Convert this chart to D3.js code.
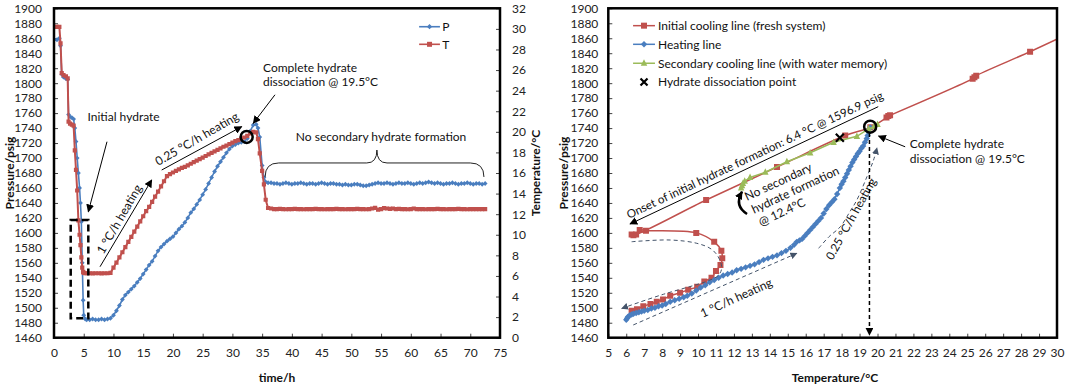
<!DOCTYPE html>
<html>
<head>
<meta charset="utf-8">
<script src="https://cdn.jsdelivr.net/npm/d3@7"></script>
<style>
  body { margin: 0; background: #fff; }
  svg { font-family: Lato, "Open Sans", sans-serif; }
</style>
</head>
<body>
<div id="chart"></div>
<script>
// ---- left panel: time series (time/h, pressure/psig, temperature/°C) ----
const hours = [
  0, 0.5, 0.9, 1.1, 1.3, 1.6, 2.0, 2.3, 2.45, 2.7, 3.0, 3.3, 3.5, 3.7, 3.9, 4.1, 4.3, 4.45, 4.6, 4.75, 4.9, 5.0, 5.25,
  5.5, 6, 6.5, 7, 7.5, 8, 8.5, 9, 9.5, 10, 10.5, 11, 11.5, 12, 12.5, 13, 13.5, 14, 14.5, 15,
  15.5, 16, 16.5, 17, 17.5, 18, 18.5, 19, 19.5, 20, 20.5, 21, 21.5, 22, 22.5, 23, 23.5, 24, 24.5, 25,
  25.5, 26, 26.5, 27, 27.5, 28, 28.5, 29, 29.5, 30, 30.5, 31, 31.5, 32, 32.5, 33, 33.5, 34,
  34.3, 34.6, 35, 35.3, 35.6, 36,
  36.5, 37, 37.5, 38, 38.5, 39, 39.5, 40, 40.5, 41, 41.5, 42, 42.5, 43, 43.5, 44, 44.5, 45, 45.5, 46,
  46.5, 47, 47.5, 48, 48.5, 49, 49.5, 50, 50.5, 51, 51.5, 52, 52.5, 53, 53.5, 54, 54.5, 55, 55.5, 56,
  56.5, 57, 57.5, 58, 58.5, 59, 59.5, 60, 60.5, 61, 61.5, 62, 62.5, 63, 63.5, 64, 64.5, 65, 65.5, 66,
  66.5, 67, 67.5, 68, 68.5, 69, 69.5, 70, 70.5, 71, 71.5, 72, 72.5
];
const pressure = [
  1858, 1858, 1860, 1850, 1812, 1808, 1806, 1805, 1758, 1755, 1754, 1752, 1740, 1722, 1700, 1680, 1660, 1640, 1615, 1560, 1510, 1490, 1485,
  1484, 1484, 1485, 1484, 1484, 1485, 1484, 1485, 1486, 1490, 1496, 1503, 1511, 1517, 1521, 1525, 1529, 1534, 1539, 1545,
  1551, 1557, 1562, 1569, 1576, 1581, 1585, 1589, 1592, 1595, 1600, 1605, 1609, 1614, 1620, 1627, 1632, 1638, 1644, 1651,
  1658, 1666, 1674, 1682, 1689, 1695, 1701, 1707, 1712, 1716, 1718, 1720, 1721, 1722, 1726, 1736, 1744, 1745,
  1740, 1728, 1690, 1674, 1668, 1667,
  1667, 1666, 1666, 1665, 1666, 1667, 1666, 1665, 1666, 1666, 1667, 1666, 1665, 1666, 1666, 1665, 1666, 1667, 1666, 1665,
  1666, 1666, 1665, 1665, 1664, 1665, 1664, 1664, 1665, 1665, 1664, 1663, 1663, 1664, 1665, 1666, 1667, 1666, 1666, 1667,
  1666, 1665, 1666, 1667, 1666, 1666, 1667, 1666, 1665, 1666, 1667, 1666, 1667, 1668, 1667, 1666, 1667, 1666, 1665, 1666,
  1666, 1667, 1666, 1665, 1666, 1666, 1667, 1666, 1665, 1666, 1666, 1665, 1666
];
const temperature = [
  30.2, 30.2, 30.2, 28.6, 25.7, 25.5, 25.4, 25.2, 21.0, 20.8, 20.7, 20.6, 18.2, 16.3, 14.3, 11.4, 10.0, 9.0, 7.8, 6.8, 6.4, 6.3, 6.26,
  6.26, 6.26, 6.25, 6.26, 6.26, 6.25, 6.26, 6.26, 6.3, 6.8, 7.3, 7.8, 8.3, 8.8, 9.3, 9.8, 10.3, 10.8, 11.3, 11.8,
  12.3, 12.7, 13.2, 13.7, 14.2, 14.7, 15.2, 15.7, 15.9, 16.05, 16.2, 16.35, 16.5, 16.6, 16.75, 16.9, 17.05, 17.2, 17.35, 17.5,
  17.65, 17.8, 17.95, 18.1, 18.25, 18.4, 18.55, 18.65, 18.8, 18.95, 19.1, 19.2, 19.35, 19.45, 19.6, 19.85, 20.0, 19.95,
  19.3, 17.9, 16.2, 14.9, 13.4, 12.6,
  12.55, 12.5, 12.5, 12.52, 12.5, 12.48, 12.5, 12.5, 12.52, 12.5, 12.5, 12.48, 12.5, 12.5, 12.5, 12.52, 12.5, 12.5, 12.48, 12.5,
  12.5, 12.5, 12.52, 12.5, 12.5, 12.48, 12.5, 12.5, 12.5, 12.52, 12.5, 12.5, 12.48, 12.5, 12.55, 12.62, 12.45, 12.5, 12.58, 12.55,
  12.52, 12.55, 12.5, 12.52, 12.5, 12.5, 12.48, 12.5, 12.55, 12.5, 12.5, 12.5, 12.48, 12.5, 12.5, 12.5, 12.52, 12.5, 12.5, 12.48,
  12.5, 12.5, 12.5, 12.52, 12.5, 12.5, 12.48, 12.5, 12.5, 12.5, 12.5, 12.5, 12.5
];

// ---- right panel: P-T diagram ----
const coolTemp  = [30.2, 28.5, 25.5, 25.4, 25.3, 20.7, 20.6, 20.5, 19.6, 18.2, 14.4, 10.45, 6.4, 6.3, 6.55, 6.75, 7.1,
                   9.9, 10.9, 11.3, 11.35, 11.25, 11.0, 10.75, 10.35, 9.95, 9.45, 9.0, 8.45, 8.05, 7.7, 7.35, 6.95, 6.6, 6.3];
const coolPress = [1861, 1842, 1810, 1808, 1806, 1757, 1756, 1754, 1741, 1730, 1688, 1644, 1597, 1598, 1598, 1604, 1603,
                   1600, 1588, 1576, 1566, 1557, 1549, 1540, 1535, 1528, 1524, 1520, 1516, 1511, 1508, 1505, 1502, 1498, 1496];

const heatTemp = [6.0, 6.05, 6.1, 6.2, 6.3, 6.4, 6.55, 6.7, 6.85, 7.0, 7.2, 7.4, 7.6, 7.8, 8.0, 8.2, 8.45, 8.7, 8.95, 9.2,
                  9.4, 9.65, 9.9, 10.15, 10.4, 10.65, 10.9, 11.15, 11.4, 11.65, 11.9, 12.15, 12.4, 12.65, 12.9, 13.15, 13.4, 13.65, 13.9, 14.15,
                  14.4, 14.65, 14.9, 15.15, 15.35, 15.5, 15.65, 15.8, 15.95, 16.1, 16.25, 16.4, 16.55, 16.7, 16.85, 17.0, 17.15, 17.3, 17.45, 17.6,
                  17.75, 17.9, 18.0, 18.1, 18.2, 18.3, 18.4, 18.5, 18.6, 18.7, 18.8, 18.9, 19.0, 19.1, 19.2, 19.3, 19.4, 19.45, 19.5, 19.55, 19.6];
const heatPress = [1484, 1486, 1488, 1490, 1491, 1492, 1493, 1494, 1495, 1496, 1497, 1499, 1500, 1502, 1503, 1505, 1508, 1510, 1512, 1514,
                   1516, 1519, 1523, 1527, 1530, 1534, 1537, 1540, 1543, 1545, 1547, 1550, 1552, 1554, 1556, 1558, 1561, 1564, 1566, 1568,
                   1570, 1573, 1576, 1580, 1584, 1588, 1590, 1592, 1596, 1600, 1604, 1608, 1612, 1616, 1620, 1626, 1632, 1637, 1641, 1645,
                   1652, 1660, 1665, 1669, 1674, 1679, 1684, 1689, 1694, 1698, 1702, 1706, 1709, 1713, 1716, 1721, 1726, 1730, 1735, 1739, 1741];

const secTemp  = [20.0, 19.8, 19.5, 18.85, 17.55, 16.25, 14.95, 13.75, 12.9, 12.6, 12.5, 12.45, 12.4];
const secPress = [1745, 1742, 1739, 1729, 1721, 1707, 1695, 1681, 1674, 1669, 1666, 1663, 1660];

const dissocTemp = [17.9];
const dissocPress = [1727];

// ---- tick labels ----
const pressureTicks = [1460, 1480, 1500, 1520, 1540, 1560, 1580, 1600, 1620, 1640, 1660, 1680, 1700, 1720, 1740, 1760, 1780, 1800, 1820, 1840, 1860, 1880, 1900];
const hourTicks = [0, 5, 10, 15, 20, 25, 30, 35, 40, 45, 50, 55, 60, 65, 70, 75];
const tempAxisTicks = [0, 2, 4, 6, 8, 10, 12, 14, 16, 18, 20, 22, 24, 26, 28, 30, 32];
const tempBottomTicks = [5, 6, 7, 8, 9, 10, 11, 12, 13, 14, 15, 16, 17, 18, 19, 20, 21, 22, 23, 24, 25, 26, 27, 28, 29, 30];

const blue = "#4a7ebf", red = "#c0504d", green = "#9bbb59", slate = "#44546a";

const svg = d3.select("#chart").append("svg").attr("width", 1065).attr("height", 385);
const defs = svg.append("defs");

function arrowMarker(id, color, size) {
  defs.append("marker")
    .attr("id", id).attr("viewBox", "0 0 10 10").attr("refX", 9).attr("refY", 5)
    .attr("markerWidth", size).attr("markerHeight", size)
    .attr("markerUnits", "userSpaceOnUse").attr("orient", "auto")
    .append("path").attr("d", "M0,0 L10,5 L0,10 Z").attr("fill", color);
}
arrowMarker("arrowK", "#000", 8);
arrowMarker("arrowS", slate, 7);

const plotTop = 8.3, plotBottom = 337.7;
const yP = d3.scaleLinear().domain([1460, 1900]).range([plotBottom, plotTop]);
const xHour = d3.scaleLinear().domain([0, 75]).range([54, 500]);
const yTemp = d3.scaleLinear().domain([0, 32]).range([plotBottom, plotTop]);
const xTemp = d3.scaleLinear().domain([5, 30]).range([608.3, 1057]);

defs.append("clipPath").attr("id", "clipL").append("rect")
  .attr("x", 54).attr("y", plotTop).attr("width", 446).attr("height", plotBottom - plotTop);
defs.append("clipPath").attr("id", "clipR").append("rect")
  .attr("x", 608.3).attr("y", plotTop).attr("width", 1057 - 608.3).attr("height", plotBottom - plotTop);

const diamond = h => `M0,${-h}L${h},0L0,${h}L${-h},0Z`;
const square = s => `M${-s / 2},${-s / 2}h${s}v${s}h${-s}Z`;
const triangle = s => `M0,${-s * 0.6}L${s / 2},${s * 0.4}L${-s / 2},${s * 0.4}Z`;
const cross = s => `M${-s},${-s}L${s},${s}M${-s},${s}L${s},${-s}`;

function drawAxis(axis, transform) {
  const a = svg.append("g").attr("transform", transform).call(axis.tickFormat(d3.format("d")));
  a.select(".domain").remove();
  a.selectAll(".tick line").attr("stroke", "#444");
  a.selectAll(".tick text").attr("font-size", 12).attr("fill", "#222").attr("font-family", "Lato, sans-serif");
  return a;
}

function axisTitle(text, x, y, rotate) {
  svg.append("text")
    .attr("transform", `translate(${x},${y})` + (rotate ? " rotate(-90)" : ""))
    .attr("text-anchor", "middle").attr("dominant-baseline", "central")
    .attr("font-size", 12).attr("font-weight", "bold").attr("fill", "#111")
    .text(text);
}

function label(g, text, x, y, angle, anchor) {
  return g.append("text")
    .attr("transform", `translate(${x},${y}) rotate(${angle || 0})`)
    .attr("text-anchor", anchor || "middle").attr("dominant-baseline", "central")
    .attr("font-size", 12).attr("fill", "#111")
    .text(text);
}

function arrowLine(g, pts, marker, dashed, color, width) {
  return g.append("path")
    .attr("d", d3.line().curve(d3.curveCatmullRom)(pts))
    .attr("fill", "none").attr("stroke", color || "#000").attr("stroke-width", width || 1)
    .attr("stroke-dasharray", dashed ? "4,3" : null)
    .attr("marker-end", marker ? `url(#${marker})` : null);
}

// ================= LEFT PANEL =================
drawAxis(d3.axisBottom(xHour).tickValues(hourTicks).tickSize(-4).tickPadding(11), `translate(0,${plotBottom})`);
drawAxis(d3.axisLeft(yP).tickValues(pressureTicks).tickSize(-4).tickPadding(12), `translate(54,0)`);
drawAxis(d3.axisRight(yTemp).tickValues(tempAxisTicks).tickSize(-4).tickPadding(12), `translate(500,0)`);

const left = svg.append("g");
const series = hours.map((h, i) => ({ h, p: pressure[i], t: temperature[i] }));
const dataL = left.append("g").attr("clip-path", "url(#clipL)");

dataL.append("path").datum(series)
  .attr("d", d3.line().x(d => xHour(d.h)).y(d => yP(d.p)))
  .attr("fill", "none").attr("stroke", blue).attr("stroke-width", 1.6);
dataL.append("g").selectAll("path").data(series).join("path")
  .attr("transform", d => `translate(${xHour(d.h)},${yP(d.p)})`)
  .attr("d", diamond(2.4)).attr("fill", blue);

dataL.append("path").datum(series)
  .attr("d", d3.line().x(d => xHour(d.h)).y(d => yTemp(d.t)))
  .attr("fill", "none").attr("stroke", red).attr("stroke-width", 2);
dataL.append("g").selectAll("path").data(series).join("path")
  .attr("transform", d => `translate(${xHour(d.h)},${yTemp(d.t)})`)
  .attr("d", square(4.2)).attr("fill", red);

left.append("rect").attr("x", 54).attr("y", plotTop).attr("width", 446).attr("height", plotBottom - plotTop)
  .attr("fill", "none").attr("stroke", "#000").attr("stroke-width", 2.5);

axisTitle("Pressure/psig", 9, 173, true);
axisTitle("Temperature/°C", 535, 173, true);
axisTitle("time/h", 277, 377, false);

// legend
const legL = [{ name: "P", color: blue, shape: diamond(2.6), p: 1875.4 }, { name: "T", color: red, shape: square(5), p: 1851.9 }];
legL.forEach(l => {
  left.append("line").attr("x1", xHour(61.4)).attr("x2", xHour(64.9)).attr("y1", yP(l.p)).attr("y2", yP(l.p))
    .attr("stroke", l.color).attr("stroke-width", 1.6);
  left.append("path").attr("transform", `translate(${xHour(63.15)},${yP(l.p)})`).attr("d", l.shape).attr("fill", l.color);
  label(left, l.name, xHour(65.3), yP(l.p), 0, "start");
});

// annotations
label(left, "Initial hydrate", xHour(11.7), yP(1755));
arrowLine(left, [[xHour(8.91), yP(1721.8)], [xHour(5.77), yP(1628.3)]], "arrowK");
left.append("rect")
  .attr("x", xHour(2.81)).attr("y", yP(1617.2))
  .attr("width", xHour(5.77) - xHour(2.81)).attr("height", yP(1485.9) - yP(1617.2))
  .attr("fill", "none").attr("stroke", "#000").attr("stroke-width", 2.5).attr("stroke-dasharray", "7,4");

label(left, "1 °C/h heating", xHour(10.93), yP(1618.6), -60);
arrowLine(left, [[xHour(7.74), yP(1554.8)], [xHour(16.43), yP(1670.7)]], "arrowK");
label(left, "0.25 °C/h heating", xHour(24.0), yP(1726), -30);
arrowLine(left, [[xHour(18.11), yP(1684)], [xHour(31.56), yP(1741.9)]], "arrowK");

left.append("circle").attr("cx", xHour(32.4)).attr("cy", yTemp(19.5)).attr("r", 6)
  .attr("fill", "none").attr("stroke", "#000").attr("stroke-width", 2.5);
left.append("text").attr("x", xHour(35.15)).attr("y", yP(1815.3)).attr("font-size", 12).attr("fill", "#111")
  .selectAll("tspan").data(["Complete hydrate", "dissociation @ 19.5°C"]).join("tspan")
  .attr("x", xHour(35.15)).attr("dy", (d, i) => i ? 14.5 : 0).text(d => d);
arrowLine(left, [[xHour(37.16), yP(1784.5)], [xHour(33.51), yP(1746.4)]], "arrowK");

label(left, "No secondary hydrate formation", xHour(55), yP(1728.5));
left.append("path")
  .attr("d", `M${xHour(35.5)},${yP(1674.7)} Q${xHour(35.5)},${yP(1693.4)} ${xHour(37.8)},${yP(1693.4)}
              L${xHour(52.6)},${yP(1693.4)} Q${xHour(54.3)},${yP(1693.4)} ${xHour(54.3)},${yP(1710.7)}
              Q${xHour(54.3)},${yP(1693.4)} ${xHour(56)},${yP(1693.4)}
              L${xHour(70)},${yP(1693.4)} Q${xHour(72.3)},${yP(1693.4)} ${xHour(72.3)},${yP(1674.7)}`)
  .attr("fill", "none").attr("stroke", "#222").attr("stroke-width", 1);

// ================= RIGHT PANEL =================
drawAxis(d3.axisBottom(xTemp).tickValues(tempBottomTicks).tickSize(-4).tickPadding(11), `translate(0,${plotBottom})`);
drawAxis(d3.axisLeft(yP).tickValues(pressureTicks).tickSize(-4).tickPadding(10), `translate(608.3,0)`);

const right = svg.append("g");
const dataR = right.append("g").attr("clip-path", "url(#clipR)");
const toPts = (ts, ps) => ts.map((t, i) => ({ t, p: ps[i] }));
const cool = toPts(coolTemp, coolPress), heat = toPts(heatTemp, heatPress), sec = toPts(secTemp, secPress);
const lineR = d3.line().x(d => xTemp(d.t)).y(d => yP(d.p));

dataR.append("path").datum(cool).attr("d", lineR.curve(d3.curveCatmullRom.alpha(0.5)))
  .attr("fill", "none").attr("stroke", red).attr("stroke-width", 1.5);
dataR.append("g").selectAll("path").data(cool).join("path")
  .attr("transform", d => `translate(${xTemp(d.t)},${yP(d.p)})`).attr("d", square(6)).attr("fill", red);

dataR.append("path").datum(heat).attr("d", d3.line().x(d => xTemp(d.t)).y(d => yP(d.p)))
  .attr("fill", "none").attr("stroke", blue).attr("stroke-width", 1.5);
dataR.append("g").selectAll("path").data(heat).join("path")
  .attr("transform", d => `translate(${xTemp(d.t)},${yP(d.p)})`).attr("d", diamond(3.2)).attr("fill", blue);

dataR.append("path").datum(sec).attr("d", d3.line().x(d => xTemp(d.t)).y(d => yP(d.p)))
  .attr("fill", "none").attr("stroke", green).attr("stroke-width", 1.5);
dataR.append("g").selectAll("path").data(sec).join("path")
  .attr("transform", d => `translate(${xTemp(d.t)},${yP(d.p)})`).attr("d", triangle(6.5)).attr("fill", green);

dataR.append("g").selectAll("path").data(toPts(dissocTemp, dissocPress)).join("path")
  .attr("transform", d => `translate(${xTemp(d.t)},${yP(d.p)})`).attr("d", cross(4))
  .attr("stroke", "#000").attr("stroke-width", 2.2);

right.append("rect").attr("x", 608.3).attr("y", plotTop).attr("width", 1057 - 608.3).attr("height", plotBottom - plotTop)
  .attr("fill", "none").attr("stroke", "#000").attr("stroke-width", 2.5);

axisTitle("Pressure/psig", 563, 173, true);
axisTitle("Temperature/°C", 835, 377, false);

// legend
const legR = [
  { name: "Initial cooling line (fresh system)", color: red, shape: square(6), p: 1876.8 },
  { name: "Heating line", color: blue, shape: diamond(3.2), p: 1851.9 },
  { name: "Secondary cooling line (with water memory)", color: green, shape: triangle(6.5), p: 1826.6 },
  { name: "Hydrate dissociation point", color: null, shape: cross(3.5), p: 1801.6 }
];
legR.forEach(l => {
  if (l.color) {
    right.append("line").attr("x1", xTemp(6.38)).attr("x2", xTemp(7.6)).attr("y1", yP(l.p)).attr("y2", yP(l.p))
      .attr("stroke", l.color).attr("stroke-width", 1.5);
    right.append("path").attr("transform", `translate(${xTemp(6.99)},${yP(l.p)})`).attr("d", l.shape).attr("fill", l.color);
  } else {
    right.append("path").attr("transform", `translate(${xTemp(6.99)},${yP(l.p)})`).attr("d", l.shape)
      .attr("stroke", "#000").attr("stroke-width", 2.2);
  }
  label(right, l.name, xTemp(7.77), yP(l.p), 0, "start");
});

// annotations
arrowLine(right, [[xTemp(20.04), yP(1768.6)], [xTemp(6.21), yP(1611.9)]], "arrowK");
right.append("text")
  .attr("transform", `translate(${xTemp(6.15)},${yP(1618.5)}) rotate(-25.3)`)
  .attr("font-size", 11.6).attr("fill", "#111")
  .text("Onset of initial hydrate formation: 6.4 °C @ 1596.9 psig");

right.append("text").attr("transform", `translate(${xTemp(12.73)},${yP(1642.6)}) rotate(-25)`)
  .attr("font-size", 12).attr("fill", "#111")
  .selectAll("tspan").data(["No secondary", "hydrate formation", "@ 12.4°C"]).join("tspan")
  .attr("x", (d, i) => i * 1).attr("y", (d, i) => i * 14.5).text(d => d);
right.append("path")
  .attr("d", `M${xTemp(12.73)},${yP(1625.3)} Q${xTemp(12.0)},${yP(1636)} ${xTemp(12.45)},${yP(1655)}`)
  .attr("fill", "none").attr("stroke", "#000").attr("stroke-width", 2.5).attr("marker-end", "url(#arrowK)");

label(right, "1 °C/h heating", xTemp(12.12), yP(1513.7), -24.5);
label(right, "0.25 °C/h heating", xTemp(18.5), yP(1619), -61).attr("font-size", 11.6);

arrowLine(right, [[xTemp(6.3), yP(1588.2)], [xTemp(8.44), yP(1590.5)], [xTemp(9.93), yP(1586.1)], [xTemp(10.73), yP(1578.5)],
  [xTemp(11.13), yP(1567.8)], [xTemp(11.32), yP(1553.1)], [xTemp(11.12), yP(1543)], [xTemp(10.56), yP(1536)],
  [xTemp(9.93), yP(1531)], [xTemp(8.07), yP(1518)], [xTemp(6.21), yP(1503)], [xTemp(5.75), yP(1499)]], "arrowS", true, slate);
arrowLine(right, [[xTemp(6.39), yP(1477)], [xTemp(15.5), yP(1572.7)]], "arrowS", true, slate);
arrowLine(right, [[xTemp(16.72), yP(1579.4)], [xTemp(17.28), yP(1594.5)], [xTemp(17.93), yP(1608.3)], [xTemp(18.45), yP(1627.9)],
  [xTemp(18.85), yP(1644)], [xTemp(19.41), yP(1675)], [xTemp(19.78), yP(1697.4)], [xTemp(19.97), yP(1713.4)]], "arrowS", true, slate);

right.append("line").attr("x1", xTemp(19.55)).attr("x2", xTemp(19.55)).attr("y1", yP(1733.4)).attr("y2", yP(1463.6))
  .attr("stroke", "#000").attr("stroke-width", 1.5).attr("stroke-dasharray", "4,3").attr("marker-end", "url(#arrowK)");
right.append("circle").attr("cx", xTemp(19.59)).attr("cy", yP(1741.9)).attr("r", 6)
  .attr("fill", "none").attr("stroke", "#000").attr("stroke-width", 2.5);
right.append("text").attr("font-size", 12).attr("fill", "#111")
  .selectAll("tspan").data(["Complete hydrate", "dissociation @ 19.5°C"]).join("tspan")
  .attr("x", xTemp(21.8)).attr("y", (d, i) => yP(1713.4) + i * 15).text(d => d);
arrowLine(right, [[xTemp(21.54), yP(1715)], [xTemp(20.06), yP(1729.4)]], "arrowK");
</script>
